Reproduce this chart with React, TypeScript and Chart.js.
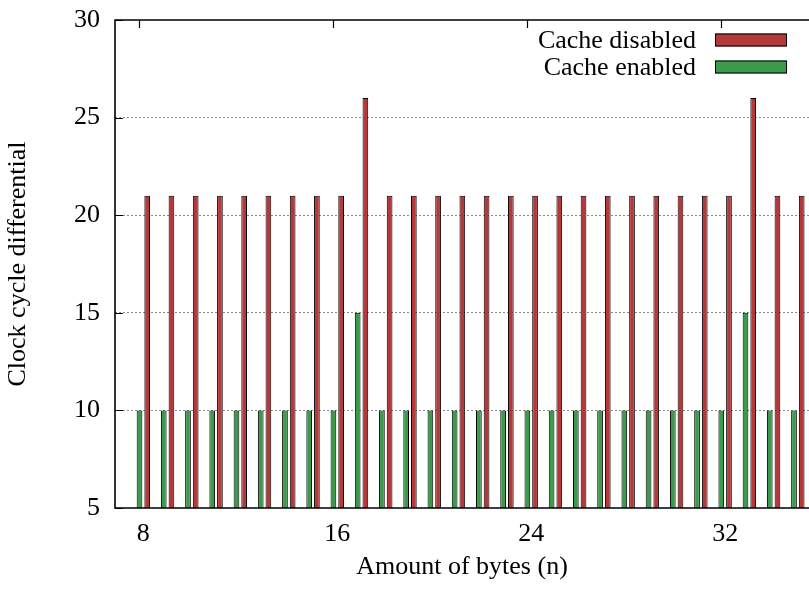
import { useEffect, useRef } from 'react';
import { Chart, registerables } from 'chart.js';

Chart.register(...registerables);

// Transfer size in bytes
const byteCounts = [8, 9, 10, 11, 12, 13, 14, 15, 16, 17, 18, 19, 20, 21, 22, 23, 24, 25, 26, 27, 28, 29, 30, 31, 32, 33, 34, 35];
// Clock cycle differential per transfer size
const cacheEnabled = [10, 10, 10, 10, 10, 10, 10, 10, 10, 15, 10, 10, 10, 10, 10, 10, 10, 10, 10, 10, 10, 10, 10, 10, 10, 15, 10, 10];
const cacheDisabled = [21, 21, 21, 21, 21, 21, 21, 21, 21, 26, 21, 21, 21, 21, 21, 21, 21, 21, 21, 21, 21, 21, 21, 21, 21, 26, 21, 21];
const xTicks = [8, 16, 24, 32];
const yTicks = [5, 10, 15, 20, 25, 30];

const FONT = "'Liberation Serif', 'Times New Roman', serif";
const RED = '#b3393a';
const GREEN = '#3b9a4c';

// Frame, inward tick marks and the gnuplot-style key
const framePlugin = {
  id: 'frame',
  beforeDatasetsDraw(chart: any) {
    const { ctx, chartArea: a, scales } = chart;
    ctx.save();
    ctx.strokeStyle = '#000';
    ctx.lineWidth = 1.2;
    ctx.beginPath();
    for (const v of yTicks) {
      const y = Math.round(scales.y.getPixelForValue(v)) + 0.5;
      ctx.moveTo(a.left, y);
      ctx.lineTo(a.left + 8, y);
    }
    for (const v of xTicks) {
      const x = Math.round(scales.x.getPixelForValue(v)) - 3.5;
      ctx.moveTo(x, a.bottom);
      ctx.lineTo(x, a.bottom - 8);
      ctx.moveTo(x, a.top);
      ctx.lineTo(x, a.top + 8);
    }
    ctx.stroke();
    ctx.restore();
  },
  afterDatasetsDraw(chart: any) {
    const { ctx, chartArea: a } = chart;
    ctx.save();
    ctx.strokeStyle = '#000';
    ctx.lineWidth = 1.6;
    ctx.beginPath();
    ctx.moveTo(a.right + 2, a.top);
    ctx.lineTo(a.left, a.top);
    ctx.lineTo(a.left, a.bottom);
    ctx.lineTo(a.right + 2, a.bottom);
    ctx.stroke();

    // key: text right-aligned, colour sample on the right
    const sets = chart.data.datasets.slice().reverse();
    ctx.font = `26px ${FONT}`;
    ctx.textAlign = 'right';
    ctx.textBaseline = 'middle';
    sets.forEach((ds: any, i: number) => {
      const cy = a.top + 20 + i * 27;
      ctx.fillStyle = '#000';
      ctx.fillText(ds.label, a.right - 113, cy + 1);
      const bx = a.right - 94;
      const bw = 72;
      const bh = 13;
      ctx.fillStyle = ds.backgroundColor;
      ctx.fillRect(bx, cy - bh / 2, bw, bh);
      ctx.lineWidth = 1;
      ctx.strokeStyle = '#000';
      ctx.strokeRect(bx + 0.5, cy - bh / 2 + 0.5, bw - 1, bh - 1);
    });
    ctx.restore();
  },
};

export default function App() {
  const canvasRef = useRef<HTMLCanvasElement | null>(null);

  useEffect(() => {
    const canvas = canvasRef.current;
    if (!canvas) return;
    const chart = new Chart(canvas, {
      type: 'bar',
      data: {
        datasets: [
          {
            label: 'Cache enabled',
            data: byteCounts.map((n, i) => ({ x: n, y: cacheEnabled[i] })),
            backgroundColor: GREEN,
            borderColor: '#000',
            borderWidth: 1,
            borderSkipped: 'start',
          },
          {
            label: 'Cache disabled',
            data: byteCounts.map((n, i) => ({ x: n, y: cacheDisabled[i] })),
            backgroundColor: RED,
            borderColor: '#000',
            borderWidth: 1,
            borderSkipped: 'start',
          },
        ],
      },
      options: {
        responsive: false,
        animation: false,
        devicePixelRatio: 1,
        categoryPercentage: 0.635,
        barPercentage: 0.74,
        layout: { padding: { top: 20, left: 0, right: 0, bottom: 0 } },
        plugins: {
          legend: { display: false },
          tooltip: { enabled: false },
        },
        scales: {
          x: {
            type: 'linear',
            min: 6.83,
            max: 35.46,
            offset: false,
            afterBuildTicks: (scale: any) => {
              scale.ticks = xTicks.map((v) => ({ value: v }));
            },
            afterFit: (scale: any) => {
              scale.height = 82;
              scale.paddingLeft = 0;
              scale.paddingRight = 0;
            },
            grid: { display: false, drawTicks: false },
            border: { display: false },
            ticks: {
              color: '#000',
              padding: 11,
              maxRotation: 0,
              autoSkip: false,
              font: { family: FONT, size: 26 },
            },
            title: {
              display: true,
              text: 'Amount of bytes (n)',
              color: '#000',
              font: { family: FONT, size: 26 },
              padding: { top: 0, bottom: 7 },
            },
          },
          y: {
            min: 5,
            max: 30,
            afterBuildTicks: (scale: any) => {
              scale.ticks = yTicks.map((v) => ({ value: v }));
            },
            afterFit: (scale: any) => {
              scale.width = 115;
              scale.paddingTop = 0;
              scale.paddingBottom = 0;
            },
            grid: {
              drawTicks: false,
              color: (c: any) => (c.tick && (c.tick.value === 5 || c.tick.value === 30) ? 'rgba(0,0,0,0)' : '#8a8a8a'),
              lineWidth: 1,
            },
            border: { display: false, dash: [2, 2] },
            ticks: {
              color: '#000',
              padding: 15,
              font: { family: FONT, size: 26 },
            },
            title: {
              display: true,
              text: 'Clock cycle differential',
              color: '#000',
              font: { family: FONT, size: 26 },
              padding: { top: 3, bottom: 0 },
            },
          },
        },
      } as any,
      plugins: [framePlugin],
    });
    return () => chart.destroy();
  }, []);

  return (
    <div style={{ position: 'absolute', left: 0, top: 0, width: 809, height: 590, background: '#fff' }}>
      <canvas ref={canvasRef} width={809} height={590} />
    </div>
  );
}
